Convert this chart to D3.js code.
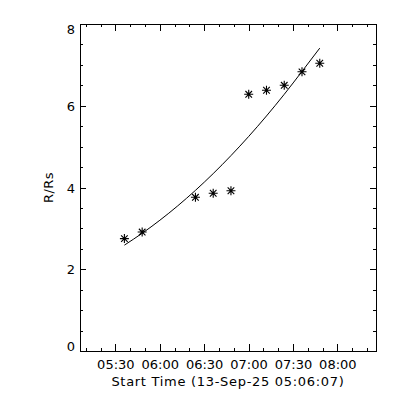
<!DOCTYPE html>
<html lang="en">
<head>
  <meta charset="UTF-8">
  <script src="https://d3js.org/d3.v7.min.js"></script>
  <title>R/Rs vs time</title>
  <style>
  body {
    margin:0;
    background-color:#fff;
  }
  svg text {
    font-family: "DejaVu Sans", sans-serif;
    font-size: 13px;
    fill: #000;
  }
  .axis path, .axis line {
    stroke: #000;
    stroke-width: 1px;
    shape-rendering: crispEdges;
  }
  .fit {
    fill: none;
    stroke: #000;
    stroke-width: 1px;
  }
  .star {
    fill: none;
    stroke: #000;
    stroke-width: 1.1px;
  }
  </style>
</head>
<body>
  <svg id="chart" width="400" height="400"></svg>

  <script>
  // time range of the x axis (date of the first image)
  const day = "2025-09-13";
  const startTime = "05:06:07";
  const endTime = "08:26:07";

  // measured heights (asterisks)
  const obsTimes = ["05:36:07", "05:48:07", "06:24:07", "06:36:07", "06:48:07",
                    "07:00:07", "07:12:07", "07:24:07", "07:36:07", "07:48:07"];
  const heights = [2.75, 2.91, 3.76, 3.86, 3.92, 6.28, 6.38, 6.50, 6.83, 7.04];

  // fitted curve
  const fitTimes = ["05:36:07", "05:48:07", "06:00:07", "06:12:07", "06:24:07", "06:36:07",
                    "06:48:07", "07:00:07", "07:12:07", "07:24:07", "07:36:07", "07:48:07"];
  const fitHeights = [2.59, 2.88, 3.20, 3.55, 3.93, 4.34, 4.78, 5.25, 5.75, 6.28, 6.84, 7.41];

  const yTicks = [0, 2, 4, 6, 8];
  const yMinorTicks = d3.range(0, 8.01, 0.5);

  const parse = t => new Date(day + "T" + t + "Z");

  let svg = d3.select("#chart");
  let margin = { top: 24, right: 24, bottom: 49, left: 80 };
  let width = 400 - margin.left - margin.right;
  let height = 400 - margin.top - margin.bottom;

  let g = svg.append("g")
    .attr("transform", "translate(" + margin.left + "," + margin.top + ")");

  let x = d3.scaleUtc()
    .domain([parse(startTime), parse(endTime)])
    .range([0, width]);

  let y = d3.scaleLinear()
    .domain([0, 8])
    .range([height, 0]);

  let fmt = d3.utcFormat("%H:%M");
  let major = d3.utcMinute.every(30);
  let minor = d3.utcMinute.every(10);

  // bottom axis
  g.append("g").attr("class", "axis")
    .attr("transform", "translate(0," + height + ")")
    .call(d3.axisBottom(x).ticks(minor).tickSize(-3).tickSizeOuter(0).tickFormat(""));
  g.append("g").attr("class", "axis")
    .attr("transform", "translate(0," + height + ")")
    .call(d3.axisBottom(x).ticks(major).tickSize(-7).tickSizeOuter(0).tickPadding(9).tickFormat(fmt))
    .call(a => a.selectAll("text").attr("font-size", null));

  // top axis
  g.append("g").attr("class", "axis")
    .call(d3.axisTop(x).ticks(minor).tickSize(-3).tickSizeOuter(0).tickFormat(""));
  g.append("g").attr("class", "axis")
    .call(d3.axisTop(x).ticks(major).tickSize(-7).tickSizeOuter(0).tickFormat(""));

  // left axis
  g.append("g").attr("class", "axis")
    .call(d3.axisLeft(y).tickValues(yMinorTicks).tickSize(-3).tickSizeOuter(0).tickFormat(""));
  let yl = g.append("g").attr("class", "axis")
    .call(d3.axisLeft(y).tickValues(yTicks).tickSize(-6).tickSizeOuter(0).tickPadding(5).tickFormat(d3.format("d")));
  // keep the end labels inside the axis like IDL does
  yl.selectAll("text")
    .attr("font-size", null)
    .attr("dy", d => d === 0 ? "-0.05em" : d === 8 ? "0.72em" : "0.36em");

  // right axis
  g.append("g").attr("class", "axis")
    .attr("transform", "translate(" + width + ",0)")
    .call(d3.axisRight(y).tickValues(yMinorTicks).tickSize(-3).tickSizeOuter(0).tickFormat(""));
  g.append("g").attr("class", "axis")
    .attr("transform", "translate(" + width + ",0)")
    .call(d3.axisRight(y).tickValues(yTicks).tickSize(-6).tickSizeOuter(0).tickFormat(""));

  svg.selectAll(".axis .domain").attr("stroke", "#000");

  // axis titles
  g.append("text")
    .attr("x", width / 2)
    .attr("y", height + 35)
    .attr("text-anchor", "middle")
    .style("letter-spacing", "0.7px")
    .text("Start Time (" + "13-Sep-25 " + startTime + ")");

  g.append("text")
    .attr("transform", "translate(-27," + (height / 2) + ") rotate(-90)")
    .attr("text-anchor", "middle")
    .style("letter-spacing", "0.5px")
    .text("R/Rs");

  // fit curve
  let line = d3.line()
    .x(d => x(parse(d[0])))
    .y(d => y(d[1]))
    .curve(d3.curveMonotoneX);

  g.append("path")
    .datum(d3.zip(fitTimes, fitHeights))
    .attr("class", "fit")
    .attr("d", line);

  // asterisks
  const star = "M-4.5,0H4.5M0,-4.5V4.5M-3.3,-3.3L3.3,3.3M-3.3,3.3L3.3,-3.3";
  g.selectAll(".star")
    .data(d3.zip(obsTimes, heights))
    .enter()
    .append("path")
    .attr("class", "star")
    .attr("transform", d => "translate(" + x(parse(d[0])) + "," + y(d[1]) + ")")
    .attr("d", star);
  </script>
</body>
</html>
